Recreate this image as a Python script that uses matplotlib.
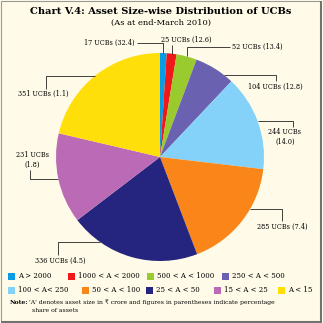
import numpy as np
import matplotlib
matplotlib.use("Agg")
import matplotlib.pyplot as plt
from matplotlib.patches import Rectangle

# Asset size classes (A in Rs crore), number of UCBs and share of assets (%)
categories = ['A > 2000', '1000 < A < 2000', '500 < A < 1000', '250 < A < 500',
              '100 < A< 250', '50 < A < 100', '25 < A < 50', '15 < A < 25', 'A < 15']
ucb_counts = [17, 25, 52, 104, 244, 285, 336, 231, 351]
asset_share = ['32.4', '12.6', '13.4', '12.8', '14.0', '7.4', '4.5', '1.8', '1.1']

colors = ['#0A9BE6', '#F01818', '#9ACB2E', '#6A62B0', '#84D2FA',
          '#FA8519', '#25257F', '#BB6AB6', '#FFDF0A']
bg = '#FFFBE8'

W = H = 323
fig = plt.figure(figsize=(W / 100, H / 100), dpi=100)
fig.patch.set_facecolor(bg)
ax = fig.add_axes([0, 0, 1, 1])
ax.set_facecolor(bg)


def Y(y):
    return H - y


serif = ['DejaVu Serif', 'DejaVu Sans']

cx, cy, R = 160, Y(157), 104
wedges, _ = ax.pie(ucb_counts, colors=colors, startangle=90, counterclock=False,
                   radius=R, center=(cx, cy), wedgeprops=dict(linewidth=0))
ax.set_xlim(0, W)
ax.set_ylim(0, H)
ax.set_aspect('equal')
ax.axis('off')

# Title
ax.text(161, Y(12), 'Chart V.4: Asset Size-wise Distribution of UCBs',
        ha='center', va='center', fontsize=7.1, fontweight='bold', family=serif)
ax.text(161, Y(23), '(As at end-March 2010)', ha='center', va='center',
        fontsize=6.0, family=serif)

# Leader-line layout per slice: anchor angle override, text pos, alignment, route
label_layout = [
    dict(ang=None, tx=135, ty=43, ha='right', route='vh', ex=137),
    dict(ang=None, tx=186, ty=40, ha='center', route='v', ey=45),
    dict(ang=None, tx=232, ty=47, ha='left', route='vh', ex=230),
    dict(ang=52, tx=248, ty=87, ha='left', route='hv', ex=276, ey=81),
    dict(ang=None, tx=285, ty=137, ha='center', route='hv', ex=293, ey=127),
    dict(ang=-30, tx=257, ty=227, ha='left', route='hv', ex=282, ey=221),
    dict(ang=-125, tx=35, ty=261, ha='left', route='hv', ex=58, ey=255),
    dict(ang=None, tx=32, ty=160, ha='center', route='hv', ex=30, ey=170),
    dict(ang=None, tx=18, ty=94, ha='left', route='hv', ex=46, ey=89),
]
two_line = {4, 7}

for i, (w, lay) in enumerate(zip(wedges, label_layout)):
    ang = lay['ang'] if lay['ang'] is not None else 0.5 * (w.theta1 + w.theta2)
    ax_, ay_ = cx + R * np.cos(np.radians(ang)), cy + R * np.sin(np.radians(ang))
    sep = '\n' if i in two_line else ' '
    label = f'{ucb_counts[i]} UCBs{sep}({asset_share[i]})'
    ax.text(lay['tx'], Y(lay['ty']), label, ha=lay['ha'], va='center',
            fontsize=4.7, family=serif, linespacing=1.2)
    if lay['route'] == 'vh':
        xs = [ax_, ax_, lay['ex']]
        ys = [ay_, Y(lay['ty']), Y(lay['ty'])]
    elif lay['route'] == 'v':
        xs = [ax_, ax_]
        ys = [ay_, Y(lay['ey'])]
    else:
        xs = [ax_, lay['ex'], lay['ex']]
        ys = [ay_, ay_, Y(lay['ey'])]
    ax.plot(xs, ys, color='#222222', lw=0.6, solid_capstyle='butt')

# Legend (two rows of coloured squares)
legend_pos = [(8, 276), (68, 276), (147, 276), (222, 276),
              (8, 290), (82, 290), (146, 290), (214, 290), (278, 290)]
for (lx, ly), col, cat in zip(legend_pos, colors, categories):
    ax.add_patch(Rectangle((lx, Y(ly) - 3.5), 7, 7, facecolor=col, edgecolor='none'))
    ax.text(lx + 10, Y(ly), cat, ha='left', va='center', fontsize=5.0, family=serif)

# Note
ax.text(10, Y(302), 'Note:', ha='left', va='center', fontsize=4.4,
        fontweight='bold', family=serif)
ax.text(29, Y(302), "'A' denotes asset size in \u20b9 crore and figures in parentheses indicate percentage",
        ha='left', va='center', fontsize=4.4, family=serif)
ax.text(32, Y(311), 'share of assets', ha='left', va='center', fontsize=4.4, family=serif)

# Frame
ax.add_patch(Rectangle((1, 2), W - 4, H - 3, facecolor='none', edgecolor='#9A9A9A', lw=0.8))
ax.plot([W - 2, W - 2], [1, H - 2], color='#707070', lw=1.4)
ax.plot([2, W - 2], [1.2, 1.2], color='#707070', lw=1.4)

fig.savefig('out.png', dpi=100, facecolor=bg)
